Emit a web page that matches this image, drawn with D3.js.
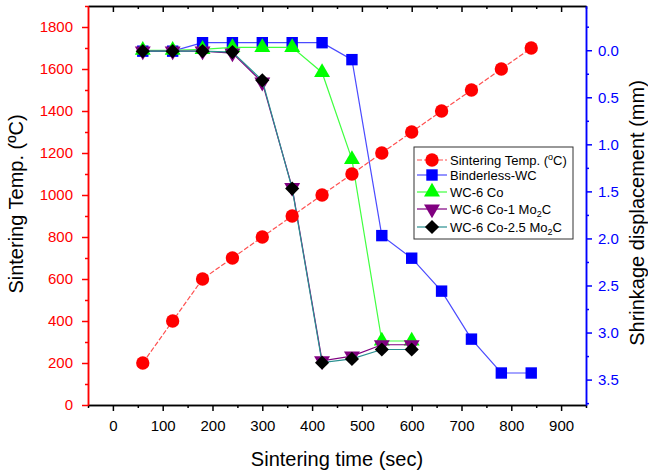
<!DOCTYPE html>
<html>
<head>
<meta charset="utf-8">
<script src="https://cdn.jsdelivr.net/npm/d3@7"></script>
<style>
  body { margin: 0; background: #fff; }
  svg { font-family: "Liberation Sans", Arial, sans-serif; }
</style>
</head>
<body>
<svg id="chart" width="648" height="471"></svg>
<script>
// data
var times = [60, 120, 180, 240, 300, 360, 420, 480, 540, 600, 660, 720, 780, 840]
var temp = [200, 400, 600, 700, 800, 900, 1000, 1100, 1200, 1300, 1400, 1500, 1600, 1700]
var binderless = [0.01, 0.01, -0.08, -0.08, -0.08, -0.08, -0.08, 0.10, 1.97, 2.21, 2.56, 3.07, 3.43, 3.43]
var wc6co = [0.0, 0.0, -0.01, -0.03, -0.03, -0.03, 0.236, 1.16, 3.09, 3.09]
var wc6coMo1 = [0.01, 0.01, 0.01, 0.03, 0.34, 1.46, 3.30, 3.25, 3.13, 3.13]
var wc6coMo25 = [0.01, 0.01, 0.01, 0.02, 0.32, 1.47, 3.32, 3.28, 3.18, 3.18]

var xTicks = [0, 100, 200, 300, 400, 500, 600, 700, 800, 900]
var leftTicks = [0, 200, 400, 600, 800, 1000, 1200, 1400, 1600, 1800]
var rightTicks = [0, 0.5, 1.0, 1.5, 2.0, 2.5, 3.0, 3.5]

var svg = d3.select('#chart')
var plotLeft = 88, plotRight = 586, plotTop = 6, plotBottom = 405
var font = '"Liberation Sans", Arial, sans-serif'

var xScale = d3.scaleLinear().domain([-50, 950]).range([plotLeft, plotRight])
var yLeft = d3.scaleLinear().domain([0, 1900]).range([plotBottom, plotTop])
var yRight = d3.scaleLinear().domain([-0.47, 3.77]).range([plotTop, plotBottom])

// top frame line with inward ticks
var gTop = svg.append('g').attr('transform', 'translate(0,' + plotTop + ')')
gTop.call(d3.axisTop(xScale).tickValues(xTicks).tickSize(-6).tickFormat('').tickSizeOuter(0))
gTop.append('g').call(d3.axisTop(xScale).tickValues(xTicks.map(function (d) { return d + 50 })).tickSize(-3).tickFormat('').tickSizeOuter(0))
gTop.selectAll('path, line').attr('stroke', '#000').attr('stroke-width', 1.5)

// bottom axis
var gBottom = svg.append('g').attr('transform', 'translate(0,' + plotBottom + ')')
gBottom.call(d3.axisBottom(xScale).tickValues(xTicks).tickSize(6).tickSizeOuter(0).tickPadding(9))
gBottom.append('g').call(d3.axisBottom(xScale).tickValues([-50].concat(xTicks.map(function (d) { return d + 50 }))).tickSize(3).tickFormat('').tickSizeOuter(0))
gBottom.selectAll('path, line').attr('stroke', '#000').attr('stroke-width', 1.5)
gBottom.selectAll('text').attr('font-size', 15).attr('fill', '#000').attr('font-family', font)

// left axis (red)
var gLeft = svg.append('g').attr('transform', 'translate(' + plotLeft + ',0)')
gLeft.call(d3.axisLeft(yLeft).tickValues(leftTicks).tickSize(6).tickSizeOuter(0).tickPadding(9).tickFormat(d3.format('d')))
gLeft.append('g').call(d3.axisLeft(yLeft).tickValues(leftTicks.map(function (d) { return d + 100 })).tickSize(3).tickFormat('').tickSizeOuter(0))
gLeft.selectAll('path, line').attr('stroke', '#ff0000').attr('stroke-width', 1.5)
gLeft.selectAll('text').attr('font-size', 15).attr('fill', '#ff0000').attr('font-family', font)

// right axis (blue)
var gRight = svg.append('g').attr('transform', 'translate(' + plotRight + ',0)')
gRight.call(d3.axisRight(yRight).tickValues(rightTicks).tickSize(6).tickSizeOuter(0).tickPadding(6).tickFormat(d3.format('.1f')))
gRight.append('g').call(d3.axisRight(yRight).tickValues([-0.25].concat(rightTicks.map(function (d) { return d + 0.25 }))).tickSize(3).tickFormat('').tickSizeOuter(0))
gRight.selectAll('path, line').attr('stroke', '#0000ff').attr('stroke-width', 1.5)
gRight.selectAll('text').attr('font-size', 15).attr('fill', '#0000ff').attr('font-family', font)

// axis titles
svg.append('text')
  .attr('transform', 'translate(23,204) rotate(-90)')
  .attr('text-anchor', 'middle')
  .attr('font-size', 20)
  .text('Sintering Temp. (ºC)')

svg.append('text')
  .attr('transform', 'translate(644,213) rotate(-90)')
  .attr('text-anchor', 'middle')
  .attr('font-size', 20)
  .text('Shrinkage displacement (mm)')

svg.append('text')
  .attr('x', 337)
  .attr('y', 466)
  .attr('text-anchor', 'middle')
  .attr('font-size', 20)
  .text('Sintering time (sec)')

// marker shapes
var symbols = {
  circle: d3.symbol().type(d3.symbolCircle).size(140),
  square: d3.symbol().type(d3.symbolSquare).size(130),
  triangle: d3.symbol().type(d3.symbolTriangle).size(110),
  triangleDown: d3.symbol().type(d3.symbolTriangle).size(110),
  diamond: d3.symbol().type(d3.symbolSquare).size(100)
}

var series = [
  { name: 'Binderless-WC', values: binderless, scale: yRight, line: '#4b4bff', fill: '#0000ff', shape: 'square' },
  { name: 'WC-6 Co', values: wc6co, scale: yRight, line: '#40ff40', fill: '#00ff00', shape: 'triangle' },
  { name: 'WC-6 Co-1 Mo2C', values: wc6coMo1, scale: yRight, line: '#800080', fill: '#800080', shape: 'triangleDown' },
  { name: 'WC-6 Co-2.5 Mo2C', values: wc6coMo25, scale: yRight, line: '#2a9090', fill: '#000000', shape: 'diamond' },
  { name: 'Sintering Temp.', values: temp, scale: yLeft, line: '#ff5050', fill: '#ff0000', shape: 'circle', dash: '5,2' }
]

function shapeTransform (shape, x, y) {
  if (shape === 'triangleDown') return 'translate(' + x + ',' + y + ') rotate(180)'
  if (shape === 'diamond') return 'translate(' + x + ',' + y + ') rotate(45)'
  return 'translate(' + x + ',' + y + ')'
}

var plot = svg.append('g')
series.forEach(function (s) {
  var pts = s.values.map(function (v, i) { return [times[i], v] })
  var line = d3.line()
    .x(function (d) { return xScale(d[0]) })
    .y(function (d) { return s.scale(d[1]) })
  plot.append('path')
    .datum(pts)
    .attr('d', line)
    .attr('fill', 'none')
    .attr('stroke', s.line)
    .attr('stroke-width', 1.2)
    .attr('stroke-dasharray', s.dash || null)
  plot.selectAll('.m-' + s.shape)
    .data(pts)
    .enter()
    .append('path')
    .attr('class', 'm-' + s.shape)
    .attr('d', symbols[s.shape])
    .attr('transform', function (d) { return shapeTransform(s.shape, xScale(d[0]), s.scale(d[1])) })
    .attr('fill', s.fill)
})

// legend
var legend = svg.append('g').attr('transform', 'translate(414,147)')
legend.append('rect')
  .attr('width', 159)
  .attr('height', 92)
  .attr('fill', '#fff')
  .attr('stroke', '#333')
  .attr('stroke-width', 1)

var legendItems = [
  { label: ['Sintering Temp. (', 'o', 'C)'], kind: 'sup', s: series[4] },
  { label: ['Binderless-WC'], s: series[0] },
  { label: ['WC-6 Co'], s: series[1] },
  { label: ['WC-6 Co-1 Mo', '2', 'C'], kind: 'sub', s: series[2] },
  { label: ['WC-6 Co-2.5 Mo', '2', 'C'], kind: 'sub', s: series[3] }
]
var legendY = [13, 28, 45, 62, 80]

legendItems.forEach(function (item, i) {
  var y = legendY[i]
  legend.append('line')
    .attr('x1', 3).attr('x2', 33)
    .attr('y1', y).attr('y2', y)
    .attr('stroke', item.s.line)
    .attr('stroke-width', 1.2)
    .attr('stroke-dasharray', item.s.dash || null)
  legend.append('path')
    .attr('d', symbols[item.s.shape])
    .attr('transform', shapeTransform(item.s.shape, 18, y))
    .attr('fill', item.s.fill)
  var t = legend.append('text')
    .attr('x', 36)
    .attr('y', y + 5)
    .attr('font-size', 13)
  t.append('tspan').text(item.label[0])
  if (item.kind === 'sup') {
    t.append('tspan').attr('font-size', 9).attr('dy', -5).text(item.label[1])
    t.append('tspan').attr('dy', 5).text(item.label[2])
  } else if (item.kind === 'sub') {
    t.append('tspan').attr('font-size', 9).attr('dy', 3).text(item.label[1])
    t.append('tspan').attr('dy', -3).text(item.label[2])
  }
})
</script>
</body>
</html>
